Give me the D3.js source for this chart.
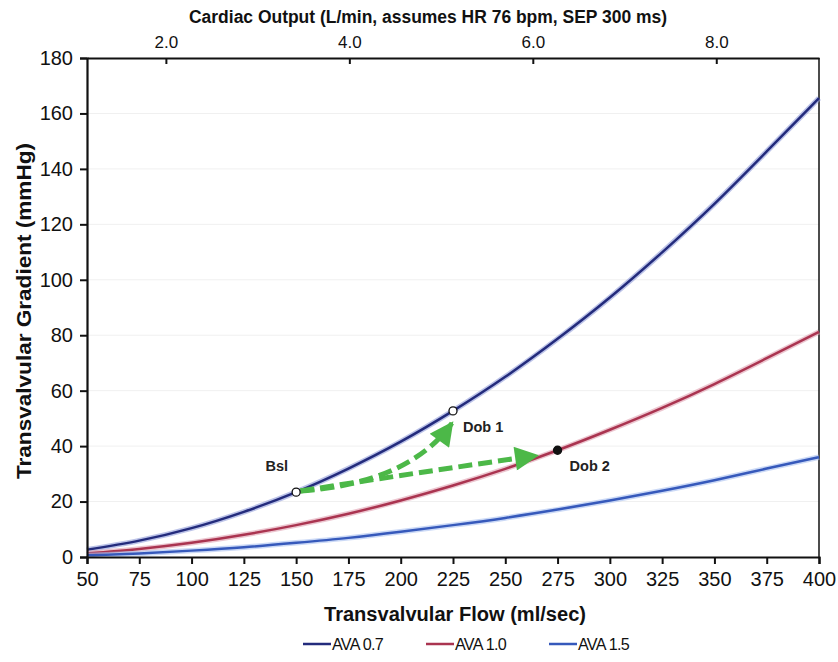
<!DOCTYPE html>
<html>
<head>
<meta charset="utf-8">
<script src="https://cdn.jsdelivr.net/npm/d3@7"></script>
<style>
  body { margin: 0; background: #fff; }
  text { font-family: "Liberation Sans", Arial, sans-serif; }
</style>
</head>
<body>
<div class="graph"></div>
<script>
// flow (ml/sec) vs gradient (mmHg)
const flow = [50, 75, 100, 125, 150, 175, 200, 225, 250, 275, 300, 325, 350, 375, 400];
const ava07 = [2.6, 5.9, 10.4, 16.3, 23.4, 31.9, 41.6, 52.7, 65.0, 78.7, 93.6, 109.9, 127.4, 146.3, 165.5];
const ava10 = [1.3, 2.9, 5.1, 8.0, 11.5, 15.6, 20.4, 25.8, 31.8, 38.5, 45.9, 53.8, 62.4, 71.7, 81.2];
const ava15 = [0.6, 1.3, 2.3, 3.5, 5.1, 6.9, 9.1, 11.5, 14.1, 17.1, 20.4, 23.9, 27.7, 31.9, 36.0];

const yTicks = [0, 20, 40, 60, 80, 100, 120, 140, 160, 180];
const coTicks = [2, 4, 6, 8];
const litresPerMl = 0.0228; // 76 bpm * 0.3 s / 1000

const seriesNames = ['AVA 0.7', 'AVA 1.0', 'AVA 1.5'];
const seriesColors = ['#232b7c', '#aa3450', '#3659bb'];
const haloColors = ['#8f9bd8', '#e0a0b0', '#a9bff0'];

// points: Bsl, Dob 1, Dob 2
const pointNames = ['Bsl', 'Dob 1', 'Dob 2'];
const pointFlow = [150, 225, 275];
const pointGrad = [23.4, 52.7, 38.5];
const pointFilled = [false, false, true];

// green arrows (start, control, end) in data units
const arrowUp = [[152, 23.8], [204, 26.7], [224.5, 48.3]];
const arrowRight = [[152, 23.8], [208, 30.5], [265, 36.6]];

const margin = {top: 58, right: 19, bottom: 105, left: 87},
    width = 838 - margin.left - margin.right,
    height = 662 - margin.top - margin.bottom;

const scaleX = d3.scaleLinear().domain([50, 400]).range([0, width]);
const scaleY = d3.scaleLinear().domain([0, 180]).range([height, 0]);
const scaleCO = d3.scaleLinear()
    .domain([50 * litresPerMl, 400 * litresPerMl])
    .range([0, width]);

const svg = d3.select('.graph').append('svg')
    .attr('width', 838)
    .attr('height', 662);

const g = svg.append('g')
    .attr('transform', 'translate(' + margin.left + ',' + margin.top + ')');

// faint grid
g.append('g')
  .selectAll('line')
  .data(yTicks.slice(1, -1))
  .join('line')
    .attr('x1', 0).attr('x2', width)
    .attr('y1', d => scaleY(d)).attr('y2', d => scaleY(d))
    .attr('stroke', '#f0f0f0');

// frame: right side
g.append('line').attr('x1', width).attr('x2', width).attr('y1', 0).attr('y2', height)
    .attr('stroke', '#111').attr('stroke-width', 1.5);

const line = d3.line()
    .x((d, i) => scaleX(flow[i]))
    .y(d => scaleY(d))
    .curve(d3.curveNatural);

const allSeries = [ava07, ava10, ava15];

allSeries.forEach((vals, k) => {
  g.append('path')
    .datum(vals)
    .attr('d', line)
    .attr('fill', 'none')
    .attr('stroke', haloColors[k])
    .attr('stroke-opacity', 0.6)
    .attr('stroke-width', 5.5);
  g.append('path')
    .datum(vals)
    .attr('d', line)
    .attr('fill', 'none')
    .attr('stroke', seriesColors[k])
    .attr('stroke-width', 2.5);
});

// arrows
const green = '#4cb848';
svg.append('defs').append('marker')
    .attr('id', 'head')
    .attr('viewBox', '0 0 10 10')
    .attr('refX', 9).attr('refY', 5)
    .attr('markerWidth', 5.4).attr('markerHeight', 4.8)
    .attr('markerUnits', 'strokeWidth')
    .attr('orient', 'auto')
  .append('path')
    .attr('d', 'M0,0L10,5L0,10Z')
    .attr('fill', green);

[arrowUp, arrowRight].forEach(a => {
  const p = d3.path();
  p.moveTo(scaleX(a[0][0]), scaleY(a[0][1]));
  p.quadraticCurveTo(scaleX(a[1][0]), scaleY(a[1][1]), scaleX(a[2][0]), scaleY(a[2][1]));
  g.append('path')
    .attr('d', p.toString())
    .attr('fill', 'none')
    .attr('stroke', green)
    .attr('stroke-width', 5)
    .attr('stroke-dasharray', '14,6')
    .attr('marker-end', 'url(#head)');
});

// points
pointNames.forEach((name, i) => {
  g.append('circle')
    .attr('cx', scaleX(pointFlow[i]))
    .attr('cy', scaleY(pointGrad[i]))
    .attr('r', 4)
    .attr('fill', pointFilled[i] ? '#111' : '#fff')
    .attr('stroke', '#111')
    .attr('stroke-width', 1.3);
});

g.append('text').attr('x', scaleX(pointFlow[0]) - 8).attr('y', scaleY(pointGrad[0]) - 21)
    .attr('text-anchor', 'end').attr('font-size', 14.5).attr('font-weight', 'bold')
    .attr('fill', '#222').text(pointNames[0]);
g.append('text').attr('x', scaleX(pointFlow[1]) + 10).attr('y', scaleY(pointGrad[1]) + 21)
    .attr('font-size', 14.5).attr('font-weight', 'bold')
    .attr('fill', '#222').text(pointNames[1]);
g.append('text').attr('x', scaleX(pointFlow[2]) + 12).attr('y', scaleY(pointGrad[2]) + 21)
    .attr('font-size', 14.5).attr('font-weight', 'bold')
    .attr('fill', '#222').text(pointNames[2]);

// axes
const xAxis = d3.axisBottom(scaleX)
    .tickValues(flow)
    .tickSize(7)
    .tickPadding(8);
const yAxis = d3.axisLeft(scaleY)
    .tickValues(yTicks)
    .tickSize(7)
    .tickPadding(7);
const topAxis = d3.axisTop(scaleCO)
    .tickValues(coTicks)
    .tickFormat(d3.format('.1f'))
    .tickSizeInner(-6)
    .tickSizeOuter(0)
    .tickPadding(10);

function style(sel, size) {
  sel.select('.domain').attr('stroke', '#111').attr('stroke-width', 2.2);
  sel.selectAll('.tick line').attr('stroke', '#111').attr('stroke-width', 2);
  sel.selectAll('.tick text')
    .attr('font-family', '"Liberation Sans", Arial, sans-serif')
    .attr('font-size', size)
    .attr('fill', '#111');
}

g.append('g')
    .attr('transform', 'translate(0,' + height + ')')
    .call(xAxis)
    .call(s => style(s, 20));

g.append('g')
    .call(yAxis)
    .call(s => style(s, 20));

g.append('g')
    .call(topAxis)
    .call(s => style(s, 17))
    .call(s => s.select('.domain').attr('stroke-width', 1.8));

// titles
svg.append('text')
    .attr('x', 428)
    .attr('y', 23)
    .attr('text-anchor', 'middle')
    .attr('font-size', 17.5)
    .attr('font-weight', 'bold')
    .attr('fill', '#111')
    .attr('textLength', 478)
    .attr('lengthAdjust', 'spacingAndGlyphs')
    .text('Cardiac Output (L/min, assumes HR 76 bpm, SEP 300 ms)');

svg.append('text')
    .attr('x', 455)
    .attr('y', 621)
    .attr('text-anchor', 'middle')
    .attr('font-size', 20)
    .attr('font-weight', 'bold')
    .attr('fill', '#111')
    .attr('textLength', 262)
    .attr('lengthAdjust', 'spacingAndGlyphs')
    .text('Transvalvular Flow (ml/sec)');

svg.append('text')
    .attr('transform', 'translate(31,311) rotate(-90)')
    .attr('text-anchor', 'middle')
    .attr('font-size', 20)
    .attr('font-weight', 'bold')
    .attr('fill', '#111')
    .attr('textLength', 336)
    .attr('lengthAdjust', 'spacingAndGlyphs')
    .text('Transvalvular Gradient (mmHg)');

// legend
const legend = svg.append('g').attr('transform', 'translate(303,644)');
seriesNames.forEach((name, k) => {
  const lg = legend.append('g').attr('transform', 'translate(' + (k * 123) + ',0)');
  lg.append('line').attr('x1', 0).attr('x2', 28).attr('y1', 0).attr('y2', 0)
    .attr('stroke', seriesColors[k]).attr('stroke-width', 2.5);
  lg.append('text').attr('x', 29).attr('y', 6)
    .attr('font-size', 16).attr('letter-spacing', -0.7)
    .attr('fill', '#111')
    .attr('textLength', 51)
    .attr('lengthAdjust', 'spacingAndGlyphs')
    .text(name);
});
</script>
</body>
</html>
